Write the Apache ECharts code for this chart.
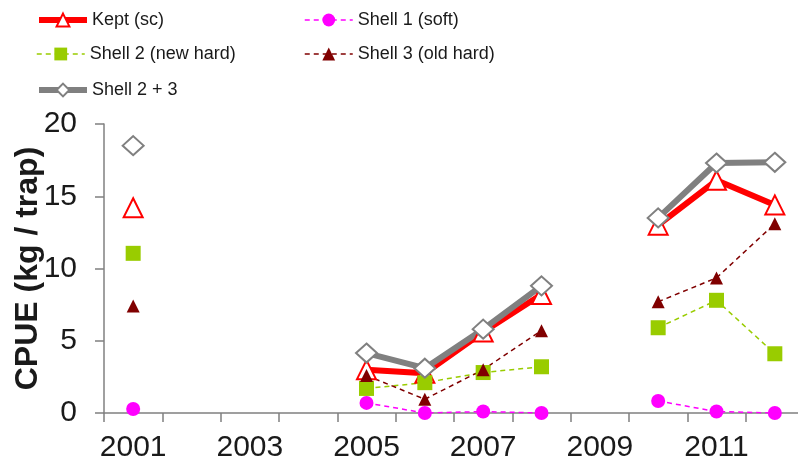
<!DOCTYPE html>
<html>
<head>
<meta charset="utf-8">
<script src="https://cdn.jsdelivr.net/npm/echarts@6/dist/echarts.min.js"></script>
<style>html,body{margin:0;padding:0;background:#fff}#c{width:798px;height:465px}</style>
</head>
<body>
<div id="c"></div>
<script>
const years = ['2001','2002','2003','2004','2005','2006','2007','2008','2009','2010','2011','2012'];
const kept    = [14.2, null, null, null, 3.0, 2.75, 5.6, 8.2, null, 13.0, 16.1, 14.4];
const shell1  = [0.28, null, null, null, 0.7, 0.0, 0.1, 0.0, null, 0.83, 0.1, 0.0];
const shell2  = [11.05, null, null, null, 1.7, 2.1, 2.8, 3.2, null, 5.9, 7.8, 4.1];
const shell3  = [7.4, null, null, null, 2.6, 0.95, 3.0, 5.7, null, 7.7, 9.35, 13.1];
const shell23 = [18.5, null, null, null, 4.15, 3.1, 5.8, 8.8, null, 13.5, 17.3, 17.35];
const yTicks = [0, 5, 10, 15, 20];

const font = '"Liberation Sans", Arial, sans-serif';
const chart = echarts.init(document.getElementById('c'), null, {renderer: 'canvas'});
function lg(name, left, top, lw) {
  return {
    data: [name], left: left, top: top,
    itemWidth: 48, itemHeight: 16, itemGap: 5,
    lineStyle: {width: lw},
    textStyle: {fontFamily: font, fontSize: 18, color: '#1a1a1a'},
    selectedMode: false, padding: 0
  };
}
chart.setOption({
  animation: false,
  backgroundColor: '#fff',
  grid: {left: 104, right: -6, top: 124, bottom: 52, containLabel: false, outerBoundsMode: 'none'},
  legend: [
    lg('Kept (sc)', 36, 11, 6),
    lg('Shell 1 (soft)', 304, 11, 1.5),
    lg('Shell 2 (new hard)', 36, 45, 1.5),
    lg('Shell 3 (old hard)', 304, 45, 1.5),
    lg('Shell 2 + 3', 36, 81, 6)
  ],
  xAxis: {
    type: 'category', data: years, boundaryGap: true,
    axisLine: {lineStyle: {color: '#808080', width: 1.5}},
    axisTick: {show: true, interval: 0, length: 9, lineStyle: {color: '#808080', width: 1.5}},
    axisLabel: {interval: 1, margin: 20, fontFamily: font, fontSize: 30, color: '#1a1a1a'}
  },
  yAxis: {
    type: 'value', min: yTicks[0], max: yTicks[yTicks.length - 1], interval: 5,
    name: 'CPUE (kg / trap)', nameLocation: 'middle', nameGap: 60, nameRotate: 90,
    nameMoveOverlap: false,
    nameTextStyle: {fontFamily: font, fontSize: 32, fontWeight: 'bold', color: '#1a1a1a'},
    axisLine: {show: true, lineStyle: {color: '#808080', width: 1.5}},
    axisTick: {show: true, length: 9, lineStyle: {color: '#808080', width: 1.5}},
    splitLine: {show: false},
    axisLabel: {margin: 27, fontFamily: font, fontSize: 30, color: '#1a1a1a'}
  },
  series: [
    {name: 'Kept (sc)', type: 'line', data: kept, symbol: 'triangle', symbolSize: 19,
     lineStyle: {color: '#ff0000', width: 6},
     itemStyle: {color: '#ffffff', borderColor: '#ff0000', borderWidth: 2}},
    {name: 'Shell 1 (soft)', type: 'line', data: shell1, symbol: 'circle', symbolSize: 14,
     lineStyle: {color: '#ff00ff', width: 1.5, type: [5, 4]},
     itemStyle: {color: '#ff00ff', borderWidth: 0}},
    {name: 'Shell 2 (new hard)', type: 'line', data: shell2, symbol: 'rect', symbolSize: 15,
     lineStyle: {color: '#99cc00', width: 1.5, type: [5, 4]},
     itemStyle: {color: '#99cc00', borderWidth: 0}},
    {name: 'Shell 3 (old hard)', type: 'line', data: shell3, symbol: 'triangle', symbolSize: 13,
     lineStyle: {color: '#800000', width: 1.5, type: [5, 4]},
     itemStyle: {color: '#800000', borderWidth: 0}},
    {name: 'Shell 2 + 3', type: 'line', data: shell23, symbol: 'diamond', symbolSize: [21, 19],
     lineStyle: {color: '#808080', width: 6},
     itemStyle: {color: '#ffffff', borderColor: '#808080', borderWidth: 2}}
  ]
});
</script>
</body>
</html>
